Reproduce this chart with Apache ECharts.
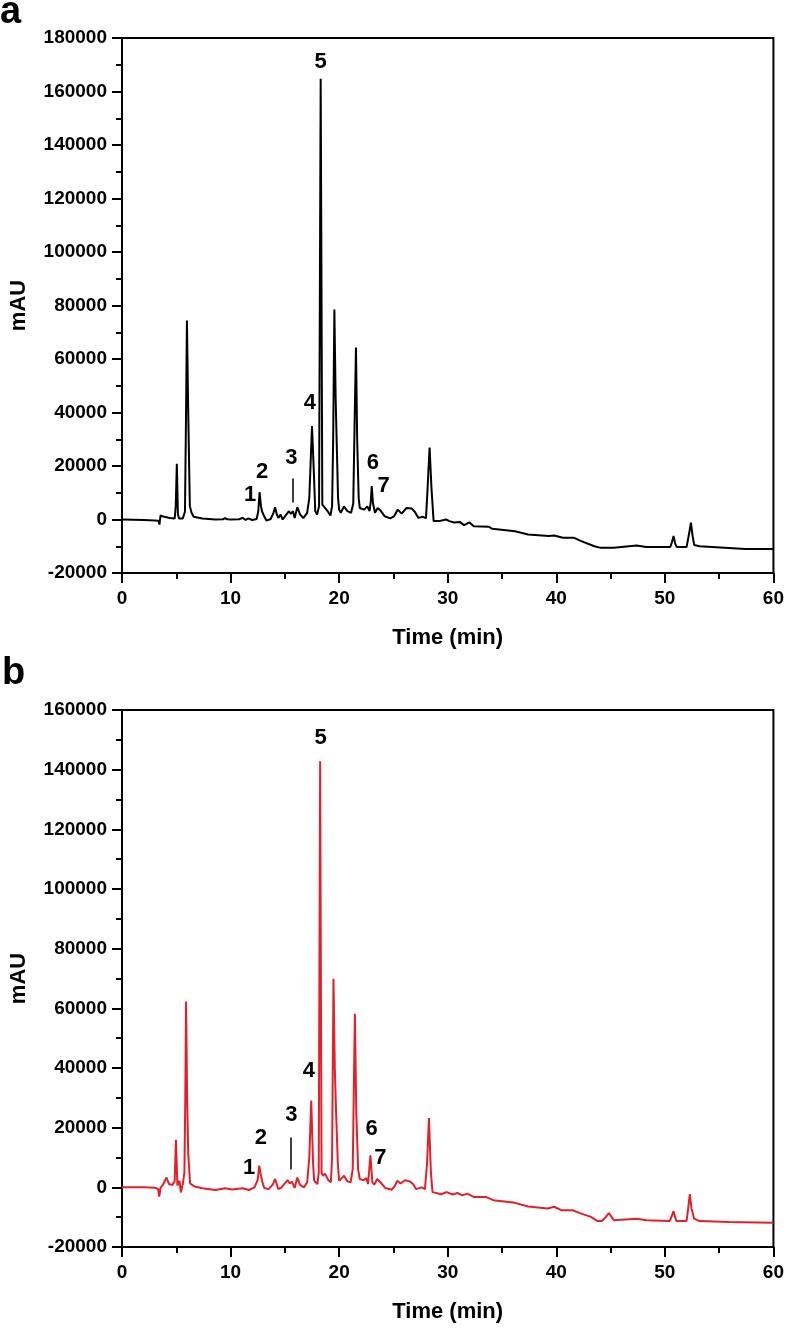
<!DOCTYPE html>
<html>
<head>
<meta charset="utf-8">
<script src="https://cdn.jsdelivr.net/npm/echarts@6/dist/echarts.min.js"></script>
<style>
  html, body { margin: 0; padding: 0; background: #fff; }
  #chart { width: 787px; height: 1330px; }
</style>
</head>
<body>
<div id="chart"></div>
<script>
// panel a (black trace)
const timeA = [0, 1, 2, 3, 3.35, 3.45, 3.55, 3.9, 4.4, 4.85, 4.95, 5.05, 5.15, 5.25, 5.6, 5.8, 5.9, 5.98, 6.08, 6.15, 6.25, 6.4, 6.6, 7.4, 8.6, 9.3, 9.5, 9.7, 10.0, 10.8, 11.1, 11.4, 11.6, 12.0, 12.4, 12.55, 12.67, 12.8, 12.9, 13.1, 13.3, 13.7, 13.95, 14.1, 14.25, 14.4, 14.6, 14.8, 15.15, 15.36, 15.55, 15.75, 15.9, 16.15, 16.4, 16.7, 17.05, 17.25, 17.35, 17.5, 17.66, 17.8, 17.97, 18.15, 18.3, 18.45, 18.7, 18.94, 19.2, 19.35, 19.45, 19.56, 19.68, 19.78, 19.9, 20.0, 20.15, 20.45, 20.76, 21.1, 21.3, 21.42, 21.55, 21.66, 21.8, 21.9, 22.3, 22.6, 22.8, 22.92, 23.0, 23.12, 23.3, 23.55, 23.8, 24.2, 24.7, 25.06, 25.4, 25.75, 26.2, 26.7, 27.0, 27.3, 27.7, 28.0, 28.15, 28.33, 28.5, 28.7, 29.2, 29.85, 30.15, 30.6, 31.1, 31.5, 32.0, 32.4, 33.8, 34.1, 36.2, 37.4, 39.3, 39.8, 40.6, 41.6, 42.3, 43.5, 44.1, 45.3, 47.4, 48.3, 50.5, 50.65, 50.8, 50.95, 51.1, 52.0, 52.2, 52.4, 52.55, 52.7, 53.2, 57.4, 60];
const mauA = [0, -100, -200, -400, -500, -1900, 1500, 1000, 600, 350, 5000, 20800, 2000, 400, 400, 3000, 40000, 74400, 45000, 28000, 5000, 2600, 1000, 400, 0, 100, 500, 100, 0, 100, 600, -200, 400, -200, 200, 3000, 10200, 5000, 3000, 1200, -400, 200, 2500, 4600, 2000, 600, 1900, 0, 1900, 3100, 2100, 3100, 600, 4600, 1900, 500, 2500, 8000, 18700, 34900, 18700, 3100, 1900, 5000, 164800, 5600, 4300, 3100, 1500, 5000, 30000, 78500, 45000, 28000, 8000, 3700, 2500, 4900, 3100, 2500, 6000, 35000, 64300, 30000, 8000, 4300, 3700, 4900, 3100, 7000, 12500, 6000, 2500, 4300, 3400, 1200, 400, 1200, 3700, 2200, 4300, 4100, 2700, 600, 1000, 500, 12000, 26900, 12000, -600, -600, 0, -600, -1100, -900, -2100, -1100, -2500, -2700, -3500, -4400, -5600, -6200, -6000, -6800, -6800, -8100, -10000, -10600, -10600, -9700, -10300, -10300, -8500, -6200, -9000, -10300, -10300, -6000, -1200, -6000, -9500, -10000, -11000, -11000];

// panel b (red trace)
const timeB = [0, 1, 2, 3, 3.33, 3.43, 3.55, 3.8, 4.1, 4.33, 4.64, 4.85, 4.97, 5.1, 5.3, 5.42, 5.6, 5.75, 5.83, 5.9, 6.0, 6.1, 6.27, 6.67, 7.4, 8.6, 9.5, 10.15, 11.1, 11.7, 12.2, 12.5, 12.64, 12.8, 12.9, 13.1, 13.5, 13.9, 14.1, 14.4, 14.7, 15.0, 15.25, 15.45, 15.66, 15.9, 16.15, 16.4, 16.75, 17.06, 17.25, 17.43, 17.6, 17.7, 17.85, 18.0, 18.12, 18.25, 18.38, 18.5, 18.7, 19.0, 19.24, 19.35, 19.48, 19.6, 19.72, 19.88, 20.0, 20.25, 20.45, 20.75, 21.06, 21.25, 21.45, 21.58, 21.75, 21.9, 22.27, 22.5, 22.66, 22.88, 23.06, 23.24, 23.5, 23.8, 24.24, 24.85, 25.15, 25.36, 25.66, 26.06, 26.5, 26.8, 27.1, 27.6, 27.9, 28.1, 28.27, 28.45, 28.6, 29.4, 29.9, 30.45, 30.9, 31.36, 31.8, 32.4, 33.5, 34.2, 36.2, 37.4, 39.2, 39.8, 40.5, 41.5, 42.3, 43.2, 43.8, 44.2, 44.55, 44.85, 45.1, 45.3, 47.4, 48.3, 50.45, 50.65, 50.8, 50.95, 51.06, 52.0, 52.15, 52.3, 52.45, 52.7, 53.2, 55.9, 60];
const mauB = [0, 0, 0, -100, -560, -3100, -200, 1100, 3300, 1100, 800, 2000, 15900, 600, 2200, -1700, 1100, 5000, 30000, 62300, 30000, 11400, 1300, 300, -300, -900, -300, -700, -300, -900, 0, 2500, 7300, 4000, 2200, -200, -600, 1000, 2800, -600, 0, 1300, 2400, 1300, 1900, -200, 3300, 800, 0, 1700, 10000, 29100, 8000, 2200, 2000, 1100, 5000, 142800, 5000, 3900, 4600, 2400, 1700, 10000, 69900, 40000, 25000, 8000, 2200, 3100, 3900, 2000, 1700, 6000, 58200, 25000, 6000, 2800, 2400, 3100, 1100, 10700, 1700, 900, 2800, 1700, -200, -800, 600, 2200, 1300, 2400, 2000, 1100, -600, 0, -600, 8000, 23200, 5000, -1600, -2300, -1600, -2400, -1900, -2700, -2100, -3200, -3200, -4300, -5200, -6400, -7100, -6500, -7700, -7700, -8800, -9900, -11300, -11300, -10000, -8600, -10000, -11000, -10500, -11000, -11300, -9500, -8000, -10000, -11300, -11300, -7000, -2300, -7000, -10500, -11300, -11600, -11900];

// peak numbers and where their labels sit (time, mAU)
const peakNames = ['1', '2', '3', '4', '5', '6', '7'];
const peakTimeA = [11.8, 12.9, 15.6, 17.3, 18.3, 23.1, 24.1];
const peakMauA = [9000, 17900, 23200, 43700, 171200, 21300, 12700];
const peakTimeB = [11.7, 12.8, 15.6, 17.2, 18.3, 23.0, 23.8];
const peakMauB = [6400, 16700, 24400, 39100, 150500, 19700, 10000];
// the small marker under peak 3: [time, from, to]
const mark3A = [15.7, 6400, 15300];
const mark3B = [15.55, 6000, 16700];

const FONT = "'Liberation Sans', Arial, sans-serif";

const chart = echarts.init(document.getElementById('chart'));

function zip(xs, ys) {
    return xs.map((x, i) => [x, ys[i]]);
}

function xAxisFor(gridIndex) {
    return {
        type: 'value',
        gridIndex: gridIndex,
        min: 0,
        max: 60,
        interval: 10,
        name: 'Time (min)',
        nameLocation: 'middle',
        nameGap: 54,
        nameTextStyle: { fontFamily: FONT, fontWeight: 'bold', fontSize: 22, color: '#000' },
        axisLine: { onZero: false, lineStyle: { color: '#000', width: 2 } },
        axisTick: { inside: false, length: 10, lineStyle: { color: '#000', width: 2 } },
        minorTick: { show: true, splitNumber: 2, length: 6, lineStyle: { color: '#000', width: 2 } },
        splitLine: { show: false },
        axisLabel: { margin: 16, fontFamily: FONT, fontWeight: 'bold', fontSize: 19, color: '#000' }
    };
}

function yAxisFor(gridIndex, max) {
    return {
        type: 'value',
        gridIndex: gridIndex,
        min: -20000,
        max: max,
        interval: 20000,
        name: 'mAU',
        nameLocation: 'middle',
        nameGap: 92,
        nameTextStyle: { fontFamily: FONT, fontWeight: 'bold', fontSize: 22, color: '#000' },
        axisLine: { onZero: false, lineStyle: { color: '#000', width: 2 } },
        axisTick: { inside: false, length: 10, lineStyle: { color: '#000', width: 2 } },
        minorTick: { show: true, splitNumber: 2, length: 6, lineStyle: { color: '#000', width: 2 } },
        splitLine: { show: false },
        axisLabel: {
            margin: 15,
            fontFamily: FONT,
            fontWeight: 'bold',
            fontSize: 19,
            color: '#000',
            formatter: v => String(v)
        }
    };
}

function traceSeries(idx, times, values, color, pTimes, pValues, mark3) {
    return {
        type: 'line',
        xAxisIndex: idx,
        yAxisIndex: idx,
        data: zip(times, values),
        showSymbol: false,
        lineStyle: { color: color, width: 2 },
        markPoint: {
            silent: true,
            symbol: 'circle',
            symbolSize: 1,
            itemStyle: { color: 'rgba(0,0,0,0)' },
            label: {
                show: true,
                position: 'inside',
                formatter: '{b}',
                fontFamily: FONT,
                fontWeight: 'bold',
                fontSize: 22,
                color: '#000'
            },
            data: peakNames.map((n, i) => ({ name: n, coord: [pTimes[i], pValues[i]] }))
        },
        markLine: {
            silent: true,
            symbol: ['none', 'none'],
            label: { show: false },
            lineStyle: { color: '#000', width: 1.5, type: 'solid' },
            data: [[{ coord: [mark3[0], mark3[1]] }, { coord: [mark3[0], mark3[2]] }]]
        }
    };
}

chart.setOption({
    animation: false,
    backgroundColor: '#fff',
    grid: [
        { left: 115, top: 38, width: 660, height: 535, show: true, borderColor: '#000', borderWidth: 2 },
        { left: 115, top: 710, width: 660, height: 537, show: true, borderColor: '#000', borderWidth: 2 }
    ],
    graphic: [
        { type: 'text', left: 0, top: -6, style: { text: 'a', font: "bold 38px 'Liberation Sans', Arial", fill: '#000' } },
        { type: 'text', left: 2, top: 655, style: { text: 'b', font: "bold 38px 'Liberation Sans', Arial", fill: '#000' } }
    ],
    xAxis: [xAxisFor(0), xAxisFor(1)],
    yAxis: [yAxisFor(0, 180000), yAxisFor(1, 160000)],
    series: [
        traceSeries(0, timeA, mauA, '#000', peakTimeA, peakMauA, mark3A),
        traceSeries(1, timeB, mauB, '#e3202a', peakTimeB, peakMauB, mark3B)
    ]
});
</script>
</body>
</html>
